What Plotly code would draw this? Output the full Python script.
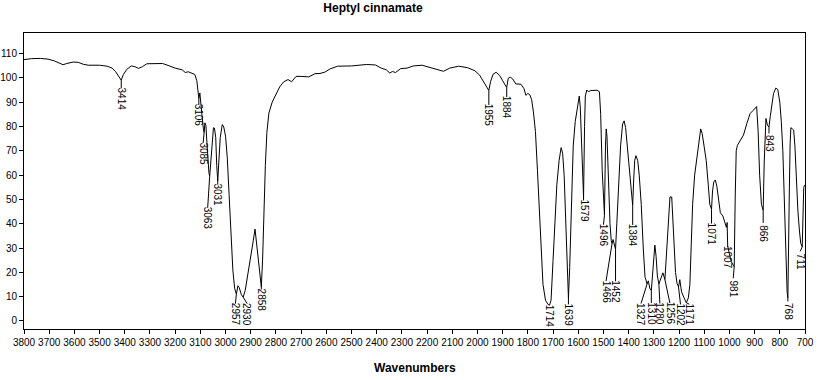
import numpy as np
import plotly.graph_objects as go

# ---------------- data ----------------
wavenumber = [
    3800, 3770, 3735, 3705, 3680, 3660, 3645, 3630, 3605, 3585, 3565, 3545, 3500, 3470, 3450,
    3436, 3424, 3414, 3406, 3392, 3374, 3360, 3345, 3330, 3312, 3280, 3250, 3225, 3200, 3172,
    3160, 3148, 3136, 3122, 3114, 3109, 3106, 3102, 3098, 3093, 3088, 3085, 3082, 3078, 3074,
    3070, 3066, 3063, 3059, 3054, 3048, 3044, 3039, 3035, 3031, 3027, 3021, 3013, 3007, 3000,
    2993, 2986, 2979, 2971, 2964, 2957, 2951, 2946, 2937, 2930, 2922, 2912, 2900, 2890, 2883,
    2877, 2868, 2862, 2858, 2853, 2848, 2842, 2836, 2828, 2815, 2800, 2785, 2770, 2752, 2738,
    2720, 2700, 2670, 2645, 2625, 2605, 2585, 2555, 2500, 2440, 2405, 2382, 2362, 2348, 2338,
    2325, 2305, 2280, 2255, 2220, 2190, 2160, 2135, 2110, 2075, 2040, 2010, 1992, 1977, 1963,
    1955, 1948, 1938, 1926, 1912, 1900, 1890, 1884, 1878, 1870, 1860, 1848, 1828, 1815, 1808,
    1800, 1792, 1785, 1778, 1770, 1762, 1755, 1748, 1740, 1730, 1720, 1714, 1708, 1700, 1692,
    1685, 1676, 1668, 1662, 1656, 1650, 1644, 1639, 1634, 1628, 1620, 1612, 1604, 1596, 1592,
    1588, 1584, 1579, 1575, 1572, 1566, 1560, 1550, 1540, 1525, 1516, 1511, 1505, 1500, 1496,
    1492, 1489, 1486, 1480, 1474, 1469, 1466, 1462, 1457, 1452, 1447, 1440, 1432, 1424, 1418,
    1412, 1404, 1396, 1390, 1384, 1380, 1376, 1371, 1364, 1358, 1350, 1342, 1335, 1331, 1327,
    1322, 1316, 1310, 1305, 1300, 1296, 1291, 1286, 1280, 1272, 1264, 1256, 1250, 1243, 1236,
    1229, 1222, 1214, 1208, 1202, 1197, 1190, 1180, 1171, 1163, 1157, 1152, 1146, 1138, 1130,
    1122, 1114, 1108, 1100, 1092, 1084, 1078, 1071, 1067, 1062, 1056, 1050, 1043, 1036, 1026,
    1018, 1012, 1009, 1007, 1001, 993, 985, 981, 977, 973, 968, 957, 944, 931, 918,
    905, 892, 886, 880, 873, 866, 862, 858, 855, 849, 843, 838, 832, 825, 816,
    808, 800, 794, 788, 782, 776, 771, 768, 765, 762, 759, 756, 750, 745, 740,
    734, 728, 722, 717, 711, 708, 705, 700,
]
transmittance = [
    107.5, 107.9, 108.0, 107.7, 107.0, 106.0, 105.4, 105.9, 106.5, 106.4, 105.6, 105.2, 105.2, 104.8, 104.0,
    102.5, 100.6, 99.0, 101.3, 103.5, 104.9, 104.6, 103.9, 104.6, 105.8, 106.0, 105.9, 105.0, 104.0, 103.3,
    102.2, 102.5, 102.0, 101.4, 98.8, 94.5, 91.5, 93.8, 90.5, 84.0, 79.0, 77.5, 81.5, 80.5, 73.5,
    66.0, 61.0, 59.5, 66.0, 73.0, 79.5, 79.3, 75.5, 64.0, 57.5, 65.0, 75.5, 80.8, 79.8, 76.0,
    67.0, 52.0, 36.0, 21.0, 13.5, 11.0, 14.5, 13.8, 10.8, 9.8, 12.5, 18.5, 25.5, 33.0, 37.8,
    32.0, 21.0, 15.5, 14.0, 25.0, 45.0, 64.0, 77.5, 85.5, 90.0, 93.5, 96.3, 98.3, 99.3, 98.4,
    100.6, 100.6, 100.4, 101.7, 101.8, 102.4, 103.7, 104.8, 104.9, 105.5, 105.3, 104.0, 103.3, 102.0, 102.6,
    102.2, 103.8, 104.0, 104.9, 105.2, 104.4, 103.3, 102.7, 104.0, 104.8, 104.2, 102.9, 101.2, 98.7, 96.3,
    94.8, 98.5, 101.5, 102.3, 101.0, 98.8, 97.3, 96.0, 99.8, 100.3, 99.5, 97.5, 97.4, 95.5, 92.8,
    93.6, 93.0, 91.0, 86.0, 78.0, 62.0, 45.0, 28.0, 15.0, 8.5, 6.8, 6.5, 8.5, 25.0, 42.0,
    56.0, 66.0, 71.3, 69.0, 60.0, 42.0, 22.0, 9.5, 22.0, 48.0, 72.0, 82.0, 87.0, 92.5, 88.0,
    75.0, 60.0, 51.0, 80.0, 92.5, 95.0, 94.3, 94.8, 94.9, 94.9, 94.3, 85.0, 62.0, 47.0, 43.5,
    72.0, 79.0, 76.0, 55.0, 40.0, 33.0, 31.8, 33.5, 31.0, 29.5, 40.0, 58.0, 72.0, 81.0, 82.3,
    79.5, 70.0, 60.0, 52.0, 47.5, 58.0, 66.0, 68.0, 66.0, 60.0, 48.0, 30.0, 18.0, 16.8, 15.2,
    16.5, 13.5, 12.5, 20.0, 29.0, 31.2, 26.5, 18.5, 15.2, 18.0, 19.8, 17.0, 26.0, 40.0, 51.0,
    51.0, 38.0, 20.0, 15.5, 14.0, 17.0, 12.0, 9.5, 7.5, 9.5, 15.0, 30.0, 48.0, 60.0, 66.0,
    73.0, 79.0, 77.0, 72.0, 66.0, 56.0, 48.0, 46.0, 53.5, 57.2, 58.0, 55.5, 50.0, 44.5, 43.2,
    40.0, 38.5, 40.5, 31.0, 28.0, 24.5, 23.0, 22.3, 51.0, 70.0, 72.3, 74.5, 76.5, 81.2, 85.3,
    86.7, 88.2, 78.0, 60.0, 48.0, 45.5, 65.0, 81.5, 83.3, 80.5, 79.8, 84.0, 89.5, 93.5, 95.8,
    95.2, 90.0, 82.0, 70.0, 48.0, 25.0, 12.0, 9.5, 25.0, 55.0, 73.0, 79.5, 79.0, 78.5, 72.0,
    58.0, 45.0, 37.0, 32.0, 30.5, 45.0, 55.0, 56.0,
]
peak_labels = [3414, 3106, 3085, 3063, 3031, 2957, 2930, 2858, 1955, 1884, 1714, 1639,
               1579, 1496, 1466, 1452, 1384, 1327, 1310, 1280, 1256, 1202, 1171, 1071,
               1007, 981, 866, 843, 768, 711]
x_ticks = list(range(3800, 699, -100))
y_ticks = list(range(0, 111, 10))

# ---------------- layout geometry ----------------
W, H = 819, 380
ML, MR, MT, MB = 24, 14, 33, 51
x_range = [3800, 700]
y_range = [-3.3, 118.45]
plot_w = W - ML - MR
plot_h = H - MT - MB
px_per_wn = plot_w / (x_range[0] - x_range[1])
px_per_T = plot_h / (y_range[1] - y_range[0])

# label placement: text-centre drop below the peak (px) and horizontal shift (px)
label_drop = [18.5, 17, 21, 42, 14, 20, 17, 13, 25, 20, 11, 17,
              14, 20, 48, 42.5, 30, 30, 23, 30, 34, 28, 12, 25,
              12, 22, 23, 17, 14, 15]
label_dx = [0, 0, -1, -2, 0, -1, 4, 0, 0, 0, 0, 0,
            0, -1, -6, 0, 0, -6, 0, 1, 5, 2, 3, 0,
            0, -1, 0, 0, 0, -2]
half_text = 10.5

wn_arr = np.array(wavenumber[::-1], dtype=float)
tr_arr = np.array(transmittance[::-1], dtype=float)

font_tick = "Liberation Sans Narrow, Arial Narrow, Liberation Sans, Arial, sans-serif"
font_bold = "Liberation Sans, Arial, sans-serif"

fig = go.Figure()
fig.add_trace(go.Scatter(x=wavenumber, y=transmittance, mode="lines",
                         line=dict(color="black", width=1), hoverinfo="skip",
                         showlegend=False))

lx, ly = [], []
annotations = []
for wn, drop, dx in zip(peak_labels, label_drop, label_dx):
    t_peak = float(np.interp(wn, wn_arr, tr_arr))
    wn_text = wn - dx / px_per_wn
    t_center = t_peak - drop / px_per_T
    t_top = t_center + half_text / px_per_T
    if drop > half_text + 0.5:
        lx += [wn, wn_text, None]
        ly += [t_peak, t_top, None]
    annotations.append(dict(x=wn_text, y=t_center, xref="x", yref="y",
                            text=str(wn), showarrow=False, textangle=90,
                            xanchor="center", yanchor="middle",
                            font=dict(family=font_tick, size=10, color="black")))

fig.add_trace(go.Scatter(x=lx, y=ly, mode="lines", line=dict(color="black", width=1),
                         hoverinfo="skip", showlegend=False))

annotations.append(dict(x=0.5, y=-(368 - (H - MB)) / plot_h, xref="paper", yref="paper",
                        text="<b>Wavenumbers</b>", showarrow=False,
                        xanchor="center", yanchor="middle",
                        font=dict(family=font_bold, size=12, color="black")))

fig.update_layout(
    template="none",
    width=W, height=H,
    margin=dict(l=ML, r=MR, t=MT, b=MB, pad=0, autoexpand=False),
    paper_bgcolor="white", plot_bgcolor="white",
    title=dict(text="<b>Heptyl cinnamate</b>", x=373 / W, xref="container", xanchor="center",
               y=1 - 7.5 / H, yref="container", yanchor="middle",
               font=dict(family=font_bold, size=12, color="black")),
    annotations=annotations,
    showlegend=False,
)
fig.update_xaxes(range=x_range, tickvals=x_ticks, ticktext=[str(v) for v in x_ticks],
                 tickangle=0, automargin=False,
                 ticks="outside", ticklen=4, tickcolor="black", tickwidth=1,
                 showline=True, linecolor="black", linewidth=1, mirror=True,
                 showgrid=False, zeroline=False,
                 tickfont=dict(family=font_tick, size=10, color="black"))
fig.update_yaxes(range=y_range, tickvals=y_ticks, ticktext=[str(v) for v in y_ticks],
                 automargin=False,
                 ticks="outside", ticklen=4, tickcolor="black", tickwidth=1,
                 showline=True, linecolor="black", linewidth=1, mirror=True,
                 showgrid=False, zeroline=False,
                 tickfont=dict(family=font_tick, size=10, color="black"))

fig.write_html("out.html", config={"displayModeBar": False},
               post_script="document.body.style.margin='0';document.body.style.padding='0';")
